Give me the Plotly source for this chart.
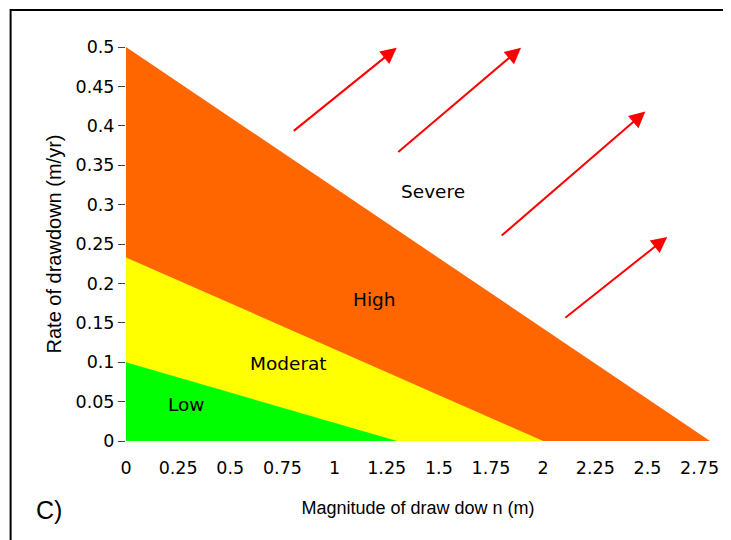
import plotly.graph_objects as go

# Zone boundaries: rate-axis intercept and magnitude-axis intercept
zone_names = ["High", "Moderat", "Low"]
zone_rate_intercepts = [0.5, 0.233, 0.1]
zone_mag_intercepts = [2.8, 2.0, 1.3]
zone_colors = ["#FF6600", "#FFFF00", "#00FF00"]

# Zone label positions
label_texts = ["Severe", "High", "Moderat", "Low"]
label_x = [1.474, 1.193, 0.778, 0.286]
label_y = [0.317, 0.179, 0.098, 0.046]

# Arrows (tail -> head) in data units
arrow_tail_x = [0.797, 1.298, 1.794, 2.099]
arrow_tail_y = [0.392, 0.365, 0.259, 0.155]
arrow_head_x = [1.298, 1.894, 2.49, 2.595]
arrow_head_y = [0.499, 0.499, 0.418, 0.259]

x_ticks = [0, 0.25, 0.5, 0.75, 1, 1.25, 1.5, 1.75, 2, 2.25, 2.5, 2.75]
y_ticks = [0, 0.05, 0.1, 0.15, 0.2, 0.25, 0.3, 0.35, 0.4, 0.45, 0.5]
x_range = [0, 2.8]
y_range = [0, 0.5]

FONT = "Liberation Sans, Arial, sans-serif"
TICKFONT = "DejaVu Sans, Verdana, sans-serif"

fig = go.Figure()
for name, yi, xi, col in zip(zone_names, zone_rate_intercepts, zone_mag_intercepts, zone_colors):
    fig.add_trace(go.Scatter(
        x=[0, 0, xi, 0], y=[0, yi, 0, 0],
        mode="lines", fill="toself", fillcolor=col,
        line=dict(width=0, color=col), name=name,
        hoverinfo="name", showlegend=False,
    ))

for t, x, y in zip(label_texts, label_x, label_y):
    fig.add_annotation(x=x, y=y, text=t, showarrow=False,
                       font=dict(family=TICKFONT, size=18.5, color="black"))

for tx, ty, hx, hy in zip(arrow_tail_x, arrow_tail_y, arrow_head_x, arrow_head_y):
    fig.add_annotation(x=hx, y=hy, ax=tx, ay=ty, xref="x", yref="y",
                       axref="x", ayref="y", text="", showarrow=True,
                       arrowhead=2, arrowsize=1.6, arrowwidth=2,
                       arrowcolor="#FF0000")

fig.add_annotation(x=-0.157, y=-0.215, xref="paper", yref="paper",
                   text="C)", showarrow=False,
                   font=dict(family=FONT, size=25, color="black"))

fig.add_shape(type="rect", xref="paper", yref="paper",
              x0=-0.1976, y0=-0.5, x1=1.5, y1=1.0939,
              line=dict(color="black", width=2), fillcolor="rgba(0,0,0,0)")

fig.update_layout(
    width=723, height=532,
    margin=dict(l=118, r=18, t=39, b=99),
    paper_bgcolor="white", plot_bgcolor="white",
    font=dict(family=FONT, size=16, color="black"),
    xaxis=dict(range=x_range, tickvals=x_ticks, ticks="outside",
               ticklen=11, tickcolor="rgba(255,255,255,0)",
               showgrid=False, zeroline=False, showline=False,
               title=dict(text="Magnitude of draw dow n (m)",
                          font=dict(family=FONT, size=18), standoff=24),
               tickfont=dict(family=TICKFONT, size=17.5)),
    yaxis=dict(range=y_range, tickvals=y_ticks, ticks="outside",
               ticklen=7, tickcolor="#444444", ticksuffix="\u00a0\u2009",
               showgrid=False, zeroline=False, showline=False,
               title=dict(text="Rate of drawdown (m/yr)",
                          font=dict(family=FONT, size=20), standoff=8),
               tickfont=dict(family=TICKFONT, size=17.5)),
)

fig.write_html("out.html")
